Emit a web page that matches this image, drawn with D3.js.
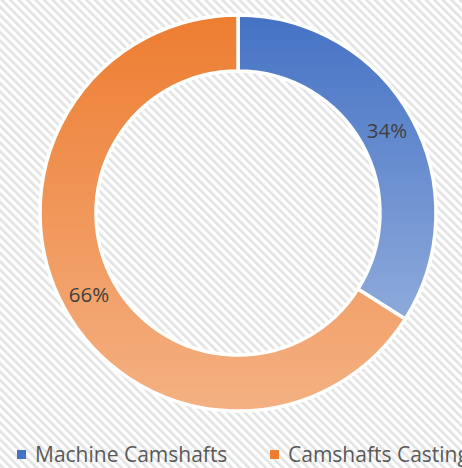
<!DOCTYPE html>
<html>
<head>
<meta charset="utf-8">
<script src="https://cdn.jsdelivr.net/npm/d3@7"></script>
<style>
  html, body { margin: 0; padding: 0; background: #fff; overflow: hidden; }
  text { font-family: "Open Sans", sans-serif; }
</style>
</head>
<body>
<script>
const categories = ["Machine Camshafts", "Camshafts Casting"];
const values = [34, 66];
const labels = ["34%", "66%"];

const width = 462;
const height = 468;
const cx = 238, cy = 213;
const outerR = 198, innerR = 142;
const gradStops = [
  ["#4472c4", "#8eaadb"],
  ["#ed7d31", "#f4b183"],
];
const legendColors = ["#4472c4", "#ed7d31"];

const svg = d3.select("body").append("svg")
  .attr("width", width)
  .attr("height", height);

const defs = svg.append("defs");

// hatched background
const pat = defs.append("pattern")
  .attr("id", "hatch")
  .attr("patternUnits", "userSpaceOnUse")
  .attr("width", 6)
  .attr("height", 6)
  .attr("patternTransform", "rotate(-45)");
pat.append("rect").attr("width", 6).attr("height", 6).attr("fill", "#ffffff");
pat.append("rect").attr("width", 2.5).attr("height", 6).attr("fill", "#e2e2e2");

svg.append("rect")
  .attr("width", width)
  .attr("height", height)
  .attr("fill", "url(#hatch)");

gradStops.forEach((s, i) => {
  const g = defs.append("linearGradient")
    .attr("id", "grad" + i)
    .attr("x1", 0).attr("y1", 0).attr("x2", 0).attr("y2", 1);
  g.append("stop").attr("offset", "0%").attr("stop-color", s[0]);
  g.append("stop").attr("offset", "100%").attr("stop-color", s[1]);
});

const pie = d3.pie().sort(null).value((d) => d);
const arcs = pie(values);
const arc = d3.arc().innerRadius(innerR).outerRadius(outerR);

const g = svg.append("g").attr("transform", `translate(${cx},${cy})`);

g.selectAll("path")
  .data(arcs)
  .enter()
  .append("path")
  .attr("d", arc)
  .attr("fill", (d, i) => `url(#grad${i})`)
  .attr("stroke", "#ffffff")
  .attr("stroke-width", 3.5)
  .attr("stroke-linejoin", "miter");

g.selectAll(".text-label")
  .data(arcs)
  .enter()
  .append("text")
  .attr("class", "text-label")
  .attr("text-anchor", "middle")
  .attr("x", (d) => arc.centroid(d)[0])
  .attr("y", (d) => arc.centroid(d)[1] + 7)
  .attr("font-size", 20.5)
  .attr("fill", "#404040")
  .text((d, i) => labels[i]);

// legend
const legendX = [17, 270];
const legend = svg.selectAll(".legend")
  .data(categories)
  .enter()
  .append("g")
  .attr("class", "legend")
  .attr("transform", (d, i) => `translate(${legendX[i]},450)`);

legend.append("rect")
  .attr("width", 9)
  .attr("height", 9)
  .attr("fill", (d, i) => legendColors[i]);

legend.append("text")
  .attr("x", 18)
  .attr("y", 12)
  .attr("font-size", 21)
  .attr("fill", "#595959")
  .text((d) => d);
</script>
</body>
</html>
